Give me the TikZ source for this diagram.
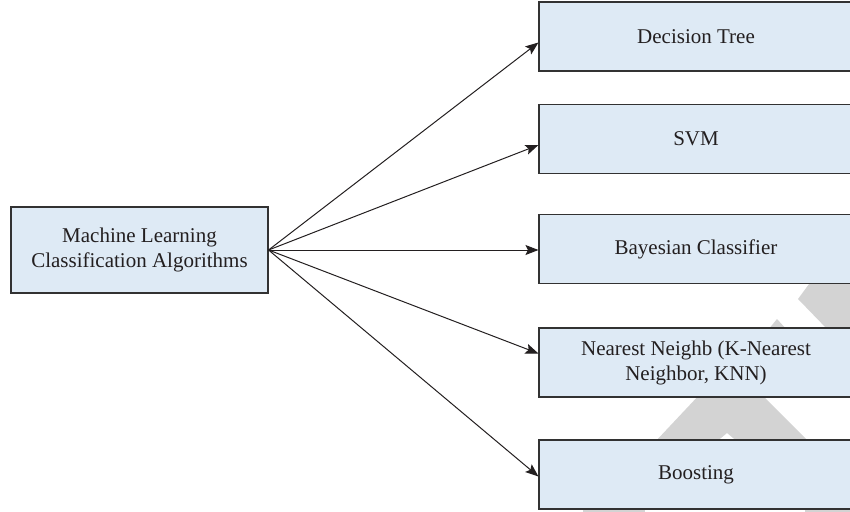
\documentclass[tikz,border=0pt]{standalone}
\usepackage{fontspec}
\setmainfont{Liberation Serif}
\usetikzlibrary{arrows.meta}
\definecolor{boxfill}{RGB}{222,234,245}
\definecolor{boxline}{RGB}{50,50,50}
\definecolor{txt}{RGB}{35,31,32}
\definecolor{wm}{RGB}{211,211,211}
\tikzset{
  algbox/.style={draw=boxline, line width=1.1pt, fill=boxfill, text=txt,
    align=center, font=\fontsize{21pt}{25pt}\selectfont, inner sep=0pt},
  rightbox/.style={algbox, minimum width=314pt, minimum height=69pt},
  arr/.style={draw=txt, line width=1pt, -{Stealth[length=13pt,width=10pt,inset=2.5pt]}}
}
\begin{document}
\begin{tikzpicture}[x=1pt,y=-1pt]
\useasboundingbox (0,0) rectangle (850,511);
% watermark
\fill[wm] (812,280) -- (852,280) -- (852,330) -- (828,330) -- (798,299) -- cycle;
\fill[wm] (777,319) -- (768,330) -- (787,330) -- cycle;
\fill[wm] (701,393) -- (760,393) -- (810,443) -- (739,443) -- (727,433) -- (715,443) -- (654,443) -- cycle;
\fill[wm] (583,506) -- (645,506) -- (645,512) -- (583,512) -- cycle;
\fill[wm] (805,506) -- (852,506) -- (852,512) -- (805,512) -- cycle;
% nodes
\node[algbox, minimum width=257pt, minimum height=86pt] (ml) at (139.5,250)
  {Machine Learning\\Classification Algorithms};
\node[rightbox] (b1) at (696,36.5) {Decision Tree};
\node[rightbox] (b2) at (696,139) {SVM};
\node[rightbox] (b3) at (696,249) {Bayesian Classifier};
\node[rightbox] (b4) at (696,362.5) {Nearest Neighb (K-Nearest\\Neighbor, KNN)};
\node[rightbox] (b5) at (696,474.5) {Boosting};
% connectors
\draw[arr] (ml.east) -- ([yshift=-6pt]b1.west);
\draw[arr] (ml.east) -- ([yshift=-6pt]b2.west);
\draw[arr] (ml.east) -- ([yshift=-1pt]b3.west);
\draw[arr] (ml.east) -- ([yshift=9pt]b4.west);
\draw[arr] (ml.east) -- ([yshift=-2pt]b5.west);
\end{tikzpicture}
\end{document}
